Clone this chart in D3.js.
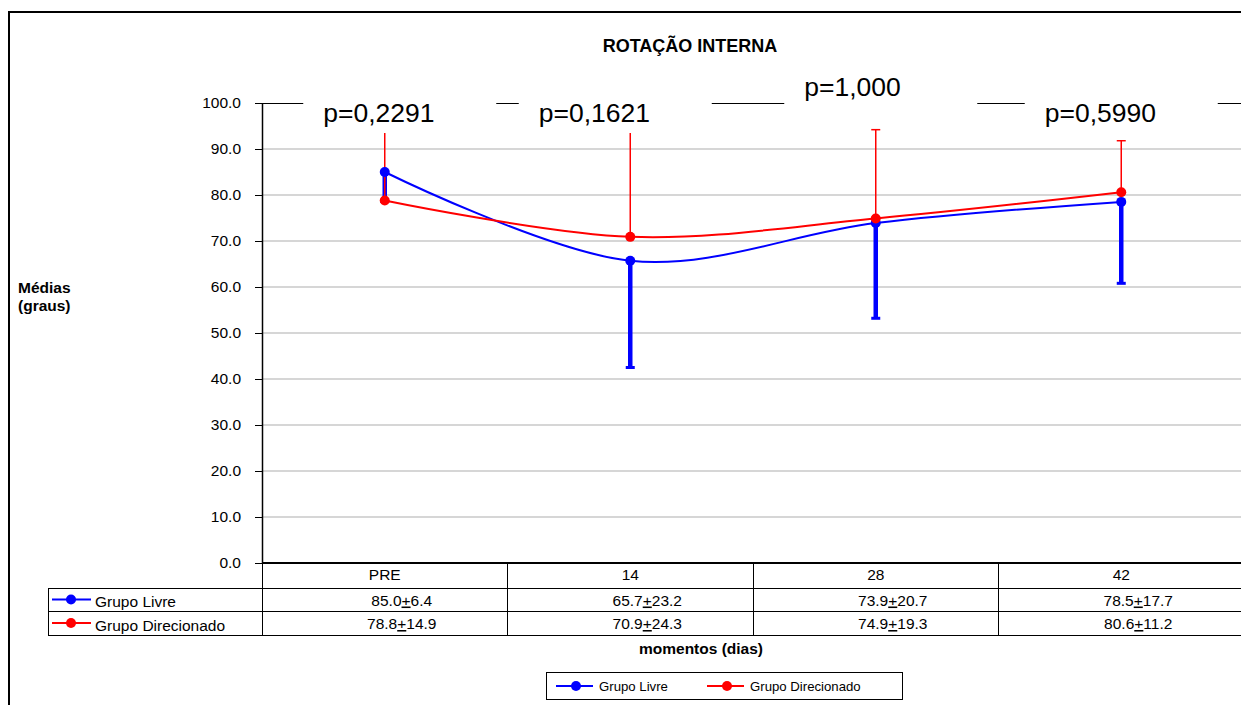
<!DOCTYPE html>
<meta charset="utf-8">
<style>
    body { margin: 0; background: #fff; }
    svg text { font-family: "Liberation Sans", Arial, sans-serif; fill: #000; }
    .grid line { stroke: #c8c8c8; stroke-width: 1.5; }
    .crisp { shape-rendering: crispEdges; }
    .u { text-decoration: underline; }
</style>
<svg width="1241" height="705"></svg>
<script src="https://d3js.org/d3.v7.min.js"></script>
<script>

    // data
    var categories = ["PRE", "14", "28", "42"];
    var livreMean = [85.0, 65.7, 73.9, 78.5];
    var livreSD = [6.4, 23.2, 20.7, 17.7];
    var direcMean = [78.8, 70.9, 74.9, 80.6];
    var direcSD = [14.9, 24.3, 19.3, 11.2];
    var pValues = ["p=0,2291", "p=0,1621", "p=1,000", "p=0,5990"];
    var yTicks = [0, 10, 20, 30, 40, 50, 60, 70, 80, 90, 100];

    // layout of the p-value boxes (shift from category centre, raise)
    var pShift = [15, -15, 5, 0];
    var pRaise = [0, 0, 26, 0];

    var series = [
        {name: "Grupo Livre", color: "#0000ff", mean: livreMean, sd: livreSD, dir: -1, bar: 4.5},
        {name: "Grupo Direcionado", color: "#ff0000", mean: direcMean, sd: direcSD, dir: 1, bar: 1.5}
    ];

    var svg = d3.select("svg");

    var x = d3.scaleBand().domain(categories).range([262, 262 + 4 * 245.5]);
    var y = d3.scaleLinear().domain([0, 100]).range([563, 103]);
    var cx = function (c) { return x(c) + x.bandwidth() / 2; };
    var xEnd = x.range()[1];

    // outer frame
    svg.append("path")
        .attr("d", "M9,705V12H1241")
        .attr("fill", "none").attr("stroke", "#000").attr("stroke-width", 2);

    // title
    svg.append("text").attr("x", 690).attr("y", 52)
        .attr("text-anchor", "middle").attr("font-size", 18).attr("font-weight", "bold")
        .text("ROTAÇÃO INTERNA");

    // gridlines
    svg.append("g").attr("class", "grid").selectAll("line")
        .data(yTicks.filter(function (d) { return d > 0 && d < 100; }))
        .enter().append("line")
        .attr("x1", 262).attr("x2", xEnd)
        .attr("y1", function (d) { return y(d); })
        .attr("y2", function (d) { return y(d); });

    // plot top border
    svg.append("line").attr("class", "crisp").attr("x1", 262).attr("x2", xEnd)
        .attr("y1", y(100)).attr("y2", y(100))
        .attr("stroke", "#000").attr("stroke-width", 1);

    // y axis
    var yAxis = svg.append("g").attr("transform", "translate(262,0)")
        .call(d3.axisLeft(y).tickValues(yTicks).tickFormat(d3.format(".1f"))
            .tickSize(7).tickSizeOuter(0).tickPadding(14));
    yAxis.select(".domain").attr("stroke", "#000").attr("stroke-width", 1.5);
    yAxis.selectAll(".tick line").attr("stroke", "#000").attr("class", "crisp");
    yAxis.selectAll(".tick text").attr("font-size", 15.5)
        .attr("font-family", "Liberation Sans, Arial, sans-serif").attr("fill", "#000");

    svg.append("text").attr("x", 18).attr("y", 293)
        .attr("font-size", 15.5).attr("font-weight", "bold").text("Médias");
    svg.append("text").attr("x", 18).attr("y", 311)
        .attr("font-size", 15.5).attr("font-weight", "bold").text("(graus)");

    // error bars (one-sided)
    series.forEach(function (s) {
        var g = svg.append("g");
        categories.forEach(function (c, i) {
            var y0 = y(s.mean[i]), y1 = y(s.mean[i] + s.dir * s.sd[i]);
            g.append("line").attr("x1", cx(c)).attr("x2", cx(c))
                .attr("y1", y0).attr("y2", y1)
                .attr("stroke", s.color).attr("stroke-width", s.bar);
            g.append("line").attr("x1", cx(c) - 4.5).attr("x2", cx(c) + 4.5)
                .attr("y1", y1).attr("y2", y1)
                .attr("stroke", s.color).attr("stroke-width", s.bar > 2 ? 3 : 1.5);
        });
    });

    // smoothed lines
    var line = d3.line()
        .x(function (d) { return cx(d.c); })
        .y(function (d) { return y(d.v); })
        .curve(d3.curveCardinal.tension(0));

    series.forEach(function (s) {
        var pts = categories.map(function (c, i) { return {c: c, v: s.mean[i]}; });
        svg.append("path").datum(pts).attr("d", line)
            .attr("fill", "none").attr("stroke", s.color).attr("stroke-width", 2);
    });
    series.forEach(function (s) {
        svg.append("g").selectAll("circle")
            .data(categories.map(function (c, i) { return {c: c, v: s.mean[i]}; }))
            .enter().append("circle")
            .attr("cx", function (d) { return cx(d.c); })
            .attr("cy", function (d) { return y(d.v); })
            .attr("r", 5).attr("fill", s.color);
    });

    // p-value boxes
    var pg = svg.append("g");
    pValues.forEach(function (p, i) {
        var left = cx(categories[i]) + pShift[i] - 96.5;
        var bottom = 133 - pRaise[i];
        pg.append("rect").attr("x", left).attr("y", bottom - 48)
            .attr("width", 193).attr("height", 48).attr("fill", "#fff");
        pg.append("text").attr("x", left + 20).attr("y", bottom - 11)
            .attr("font-size", 26.5).text(p);
    });

    // data table
    var rowY = [563, 588, 611, 635];
    var tg = svg.append("g").attr("stroke", "#000").attr("stroke-width", 1).attr("class", "crisp");
    tg.append("line").attr("x1", 262).attr("x2", xEnd).attr("y1", 563).attr("y2", 563)
        .attr("stroke-width", 2);
    rowY.slice(1).forEach(function (ry) {
        tg.append("line").attr("x1", 48).attr("x2", xEnd).attr("y1", ry).attr("y2", ry);
    });
    tg.append("line").attr("x1", 48).attr("x2", 48).attr("y1", 588).attr("y2", 635);
    categories.forEach(function (c) {
        tg.append("line").attr("x1", x(c)).attr("x2", x(c)).attr("y1", 563).attr("y2", 635);
    });

    svg.append("g").selectAll("text").data(categories).enter().append("text")
        .attr("x", function (c) { return cx(c); }).attr("y", 580)
        .attr("text-anchor", "middle").attr("font-size", 15.5)
        .text(function (c) { return c; });

    series.forEach(function (s, k) {
        var ry = (rowY[k + 1] + rowY[k + 2]) / 2;
        svg.append("line").attr("x1", 52).attr("x2", 91).attr("y1", ry).attr("y2", ry)
            .attr("stroke", s.color).attr("stroke-width", 2);
        svg.append("circle").attr("cx", 71).attr("cy", ry).attr("r", 5).attr("fill", s.color);
        svg.append("text").attr("x", 95).attr("y", ry + 7.5)
            .attr("font-size", 15.5).text(s.name);

        categories.forEach(function (c, i) {
            var t = svg.append("text").attr("x", cx(c) + 17).attr("y", ry + 6)
                .attr("text-anchor", "middle").attr("font-size", 15.5);
            t.append("tspan").text(s.mean[i].toFixed(1));
            t.append("tspan").attr("class", "u").text("+");
            t.append("tspan").text(s.sd[i].toFixed(1));
        });
    });

    svg.append("text").attr("x", 701).attr("y", 654)
        .attr("text-anchor", "middle").attr("font-size", 15.5).attr("font-weight", "bold")
        .text("momentos (dias)");

    // legend
    var lg = svg.append("g");
    lg.append("rect").attr("x", 546.5).attr("y", 672.5).attr("width", 356).attr("height", 27)
        .attr("fill", "#fff").attr("stroke", "#000").attr("stroke-width", 1);
    var legendX = [556, 707];
    series.forEach(function (s, k) {
        var lx = legendX[k];
        lg.append("line").attr("x1", lx).attr("x2", lx + 37).attr("y1", 686).attr("y2", 686)
            .attr("stroke", s.color).attr("stroke-width", 2);
        lg.append("circle").attr("cx", lx + 20).attr("cy", 686).attr("r", 5).attr("fill", s.color);
        lg.append("text").attr("x", lx + 43).attr("y", 691)
            .attr("font-size", 13.2).text(s.name);
    });

</script>
